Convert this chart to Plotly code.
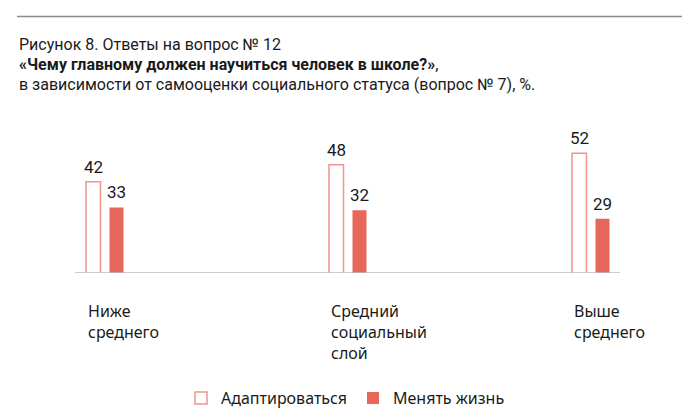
import plotly.graph_objects as go

categories = ["Ниже<br>среднего", "Средний<br>социальный<br>слой", "Выше<br>среднего"]
series_names = ["Адаптироваться", "Менять жизнь"]
adapt = [42, 48, 52]
change = [33, 32, 29]

title_lines = [
    "Рисунок 8. Ответы на вопрос № 12",
    "<b>«Чему главному должен научиться человек в школе?»</b>,",
    "в зависимости от самооценки социального статуса (вопрос № 7), %.",
]

RED = "#E8675B"
PINK = "#F2948A"
TXT = "#1a1a1a"

OFF = 8  # page body margin
W, H = 700, 420
L, R = 75 - OFF, 620 - OFF
T, B = 130 - OFF, 273.5 - OFF
PX = 243.0           # pixels per category step
C0 = 105.0 - OFF     # pixel of first category center
YMIN = 10.0
PXY = 2.86           # pixels per unit

def px2paper_x(px):
    return (px - OFF - L) / (R - L)

def py2paper_y(py):
    return (B - (py - OFF)) / (B - T)

fig = go.Figure()
fig.add_trace(go.Bar(
    x=categories, y=adapt, name=series_names[0],
    width=14.5 / PX, offset=-19 / PX,
    marker=dict(color="white", line=dict(color=PINK, width=1.5)),
))
fig.add_trace(go.Bar(
    x=categories, y=change, name=series_names[1],
    width=14 / PX, offset=4.5 / PX,
    marker=dict(color=RED, line=dict(color=RED, width=0)),
))

ann = []
# title
for i, line in enumerate(title_lines):
    ann.append(dict(
        text=line, xref="paper", yref="paper",
        x=px2paper_x(17), y=py2paper_y(44 + 20 * i),
        xanchor="left", yanchor="middle", showarrow=False,
        font=dict(family="Roboto", size=16, color=TXT),
    ))
# value labels
for cat, a, c in zip(categories, adapt, change):
    ann.append(dict(text=str(a), x=cat, y=a, xref="x", yref="y",
                    xshift=-12, yshift=3, xanchor="center", yanchor="bottom",
                    showarrow=False, font=dict(family="Roboto", size=17, color=TXT)))
    ann.append(dict(text=str(c), x=cat, y=c, xref="x", yref="y",
                    xshift=11.5, yshift=3, xanchor="center", yanchor="bottom",
                    showarrow=False, font=dict(family="Roboto", size=17, color=TXT)))
# category labels
for cat in categories:
    ann.append(dict(text=cat, x=cat, xref="x", yref="paper",
                    y=py2paper_y(299), xshift=-19, xanchor="left", yanchor="top",
                    align="left", showarrow=False,
                    font=dict(family="Noto Sans", size=16, color=TXT)))

shapes = [
    dict(type="line", xref="paper", yref="paper",
         x0=px2paper_x(17), x1=px2paper_x(682), y0=py2paper_y(16), y1=py2paper_y(16),
         line=dict(color="#8c8c8c", width=1.5)),
    dict(type="line", xref="paper", yref="y",
         x0=0, x1=1, y0=YMIN, y1=YMIN,
         line=dict(color="#bdbdbd", width=1.5)),
]

fig.update_layout(
    width=W, height=H,
    margin=dict(l=L, r=W - R, t=T, b=H - B, pad=0),
    paper_bgcolor="white", plot_bgcolor="white",
    barmode="overlay",
    showlegend=True,
    legend=dict(orientation="h", x=px2paper_x(181), y=py2paper_y(382),
                xanchor="left", yanchor="top",
                font=dict(family="Noto Sans", size=16, color=TXT),
                itemwidth=30, traceorder="normal",
                entrywidth=127, entrywidthmode="pixels"),
    xaxis=dict(range=[(L - C0) / PX, (R - C0) / PX], showticklabels=False,
               showgrid=False, zeroline=False, showline=False, ticks=""),
    yaxis=dict(range=[YMIN, YMIN + (B - T) / PXY], showticklabels=False,
               showgrid=False, zeroline=False, showline=False, ticks=""),
    annotations=ann, shapes=shapes,
)

fig.write_html("out.html")
